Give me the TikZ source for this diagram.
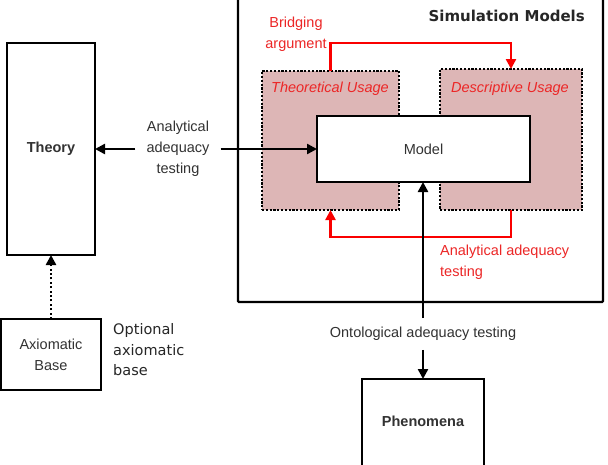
\documentclass[tikz,border=0pt]{standalone}
\usepackage{fontspec}
\setmainfont{Liberation Sans}
\newfontfamily\dejavu{DejaVu Sans}
\usepackage{tikz}
\usetikzlibrary{arrows.meta}

\definecolor{usagefill}{RGB}{221,182,182}
\definecolor{redline}{RGB}{250,0,0}
\definecolor{redtext}{RGB}{236,38,38}
\definecolor{textgray}{RGB}{50,50,50}

\begin{document}
\begin{tikzpicture}[x=1pt,y=-1pt,
  tri/.tip={Triangle[length=10pt,width=10pt]},
  box/.style={draw=black,line width=2.4pt,fill=white,inner sep=0pt,outer sep=0pt,
    font=\fontsize{14.5}{21}\selectfont\bfseries,text=textgray},
  usage/.style={draw=black,line width=2.8pt,dash pattern=on 2.2pt off 1.6pt,
    fill=usagefill,inner sep=0pt,outer sep=0pt},
  lbl/.style={inner sep=0pt,font=\fontsize{14.5}{21}\selectfont,text=textgray,align=center},
  redlbl/.style={inner sep=0pt,font=\fontsize{14.5}{21}\selectfont,text=redtext},
  conn/.style={draw=black,line width=2.4pt},
  redconn/.style={draw=redline,line width=2.4pt}]
\path[use as bounding box] (0,0) rectangle (608,464);
\clip (0,0) rectangle (608,464);
\path[fill=white] (0,0) rectangle (608,464);

% simulation models frame
\draw[line width=2.4pt,rounded corners=1pt] (238,-10) rectangle (603,302);
\node[inner sep=0pt,anchor=east,font=\dejavu\bfseries\fontsize{15}{18}\selectfont,text=black!85] (simtitle) at (585,16) {Simulation Models};

% usage areas and model
\node[usage,minimum width=137pt,minimum height=139pt] (theo) at (330.5,140.5) {};
\node[usage,minimum width=142pt,minimum height=141pt] (desc) at (511,139.5) {};
\node[redlbl,font=\fontsize{14.5}{21}\selectfont\itshape] (theolbl) at (330,89) {Theoretical Usage};
\node[redlbl,font=\fontsize{14.5}{21}\selectfont\itshape] (desclbl) at (510,89) {Descriptive Usage};
\node[box,font=\fontsize{14.5}{21}\selectfont,minimum width=213pt,minimum height=66pt] (model) at (423.5,149) {Model};

% red connectors between usages
\draw[redconn,-tri] (theo.north) |- ++(0,-28) -| (desc.north);
\node[redlbl,align=center] (bridge) at (296,34) {Bridging\\argument};
\draw[redconn,-tri] (desc.south) |- ++(0,27) -| (theo.south);
\node[redlbl,align=left,anchor=west] (redtest) at (440,262) {Analytical adequacy\\testing};

% theory side
\node[box,minimum width=88pt,minimum height=212pt] (theory) at (51,149) {Theory};
\node[lbl,inner xsep=11pt] (analytic) at (178,149) {Analytical\\adequacy\\testing};
\draw[conn,-tri] (analytic) -- (theory.east);
\draw[conn,-tri] (analytic) -- (model.west);

\node[box,font=\fontsize{14.5}{21}\selectfont,align=center,minimum width=100pt,minimum height=71pt] (axiom) at (51,354.5) {Axiomatic\\Base};
\draw[conn,dash pattern=on 2pt off 2.4pt,-tri] (axiom.north) -- (theory.south);
\node[inner sep=0pt,anchor=west,align=left,font=\dejavu\fontsize{14.5}{20.5}\selectfont,text=black!85] (optional) at (113,350) {Optional\\axiomatic\\base};

% phenomena side
\node[box,minimum width=122pt,minimum height=104pt] (phen) at (423,431) {};
\node[inner sep=0pt,font=\fontsize{14.5}{21}\selectfont\bfseries,text=textgray] (phenlbl) at (423,421) {Phenomena};
\node[lbl,inner ysep=9pt] (onto) at (423,334) {Ontological adequacy testing};
\draw[conn,-tri] (onto) -- (model.south -| onto);
\draw[conn,-tri] (onto) -- (phen.north);
\end{tikzpicture}
\end{document}
